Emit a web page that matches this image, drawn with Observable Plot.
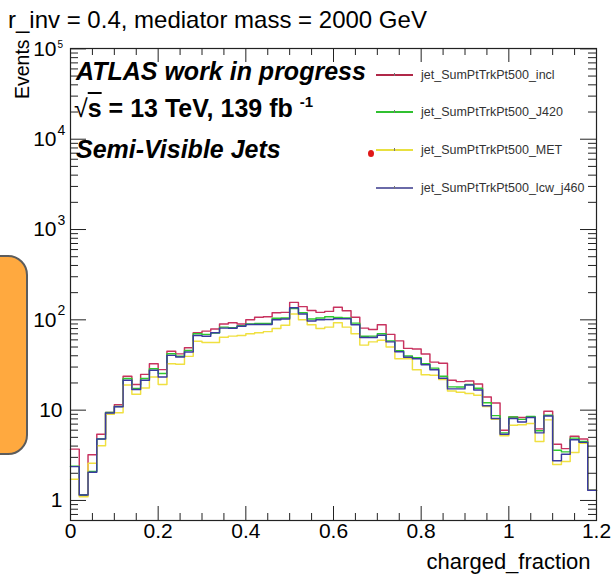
<!DOCTYPE html>
<html>
<head>
<meta charset="utf-8">
<script src="https://cdn.jsdelivr.net/npm/d3@7"></script>
<script src="https://cdn.jsdelivr.net/npm/@observablehq/plot@0.6"></script>
<style>
  body { margin: 0; background: #fff; }
  #wrap { position: relative; width: 615px; height: 584px; overflow: hidden; background: #fff;
          font-family: "Liberation Sans", Arial, Helvetica, sans-serif; color: #000; }
  #chart { position: absolute; left: 0; top: 0; }
  .ov { position: absolute; white-space: nowrap; line-height: 1; }
  .atlas { font-size: 25px; font-weight: bold; }
  .leg { position: absolute; left: 376px; height: 14px; }
  .leg .ln { position: absolute; left: 0; top: 6px; width: 37px; height: 2px; }
  .leg .tk { position: absolute; left: 18px; top: 5px; width: 1px; height: 3px; background: #777; }
  .leg .tx { position: absolute; left: 45px; top: 0; font-size: 12.5px; color: #333; line-height: 14px; }
</style>
</head>
<body>
<div id="wrap">
  <div id="chart"></div>
  <div class="ov" style="left:8px;top:8px;font-size:24px;">r_inv = 0.4, mediator mass = 2000 GeV</div>
  <div class="ov" style="left:12px;top:99px;font-size:19.5px;line-height:20px;transform:rotate(-90deg);transform-origin:0 0;">Events</div>
  <div class="ov atlas" style="left:76px;top:59px;font-style:italic;">ATLAS work in progress</div>
  <div class="ov atlas" style="left:74px;top:96px;"><span style="font-weight:normal">√</span><span style="text-decoration:overline">s</span> = 13 TeV, 139 fb <span style="font-size:15px;position:relative;top:-10px;">-1</span></div>
  <div class="ov atlas" style="left:76px;top:137px;font-style:italic;">Semi-Visible Jets</div>
  <div id="legend"></div>
  <div style="position:absolute;left:-22px;top:255px;width:46px;height:196px;background:#ffa93f;border:2px solid #5c5c5c;border-radius:20px;"></div>
</div>
<script>
// ---- data (events per bin, charged_fraction 0 .. 1.2, 60 bins) ----
const xMin = 0, xMax = 1.2;
const seriesNames = ["jet_SumPtTrkPt500_incl", "jet_SumPtTrkPt500_J420", "jet_SumPtTrkPt500_MET", "jet_SumPtTrkPt500_lcw_j460"];
const seriesColors = ["#c8325f", "#2ec82e", "#f0e040", "#3a3aa0"];
const legendColors = ["#b02848", "#30c030", "#e8e040", "#6a6aa8"];

const incl = [3.7, 1.15, 3.2, 5.4, 9.4, 11.5, 23.7, 19.2, 24.9, 32.7,
  28.1, 45, 42, 49, 72, 75, 79, 90, 93, 90,
  100, 107, 108, 120, 121, 156, 140, 127, 121, 124,
  138, 126, 107, 81, 78, 88, 69, 58.5, 48.3, 47.5,
  41.9, 34, 33.1, 21.4, 20.7, 21, 19.5, 14, 12, 6,
  8.4, 8.3, 8.4, 6.2, 9.7, 4.2, 3.75, 5.15, 4.8, 1.3];

const j420 = [2.4, 1.15, 2.1, 4.8, 9.4, 11, 22.4, 17.4, 22.4, 28.8,
  25.4, 42.2, 39.5, 45.9, 70, 69, 71.6, 83, 82, 86,
  90, 91, 91, 104, 105, 133, 120, 102, 105, 108,
  106, 105, 92, 65.8, 66, 70, 58.5, 45.5, 39.8, 38,
  32.6, 29.2, 23.7, 18.1, 18, 19.3, 17.5, 12.1, 8.7, 5.6,
  8.4, 7.9, 8.5, 5.9, 8.8, 3.6, 3.45, 4.9, 4.5, 1.3];

const met = [1.72, 1.1, 2.58, 4.04, 9.0, 9.35, 19, 15, 17.6, 23.3,
  19.2, 32.7, 32.2, 39.4, 58, 56, 56, 64, 66, 67,
  70, 72, 74, 80, 87, 116, 100, 88, 80, 83,
  93, 83, 70, 52.5, 57, 59.5, 50, 37, 37, 28,
  24.7, 24.3, 21.8, 16.3, 15.8, 15.3, 14.6, 11, 7.9, 5.2,
  6.8, 6.9, 7.1, 4.5, 7.8, 2.5, 2.7, 3.4, 4.3, 1.3];

const lcw = [2.37, 1.15, 2.05, 4.8, 9.3, 10.9, 21.4, 16.9, 21.4, 27.6,
  23.3, 40.4, 38.7, 44, 67, 65.7, 72, 81, 80.5, 85,
  89, 89, 89, 100, 102, 136, 116, 97, 100, 101,
  103, 103, 88, 63.6, 63.6, 67.5, 57, 44.4, 38.5, 37,
  31.8, 28, 22.5, 17.2, 17.2, 19, 16.7, 11.2, 8.1, 5.4,
  8.1, 7.4, 8.3, 5.6, 8.6, 2.75, 3.25, 4.7, 4.4, 1.3];

// axis ticks / labels
const xMajor = [0, 0.2, 0.4, 0.6, 0.8, 1, 1.2];
const xMinor = [0.05, 0.1, 0.15, 0.25, 0.3, 0.35, 0.45, 0.5, 0.55, 0.65, 0.7, 0.75, 0.85, 0.9, 0.95, 1.05, 1.1, 1.15];
const xLabels = ["0", "0.2", "0.4", "0.6", "0.8", "1", "1.2"];
const yDecades = [1, 10, 100, 1000, 10000, 100000];
const yExponents = ["", "", "2", "3", "4", "5"];
const yMinor = [0.7, 0.8, 0.9, 2, 3, 4, 5, 6, 7, 8, 9, 20, 30, 40, 50, 60, 70, 80, 90,
  200, 300, 400, 500, 600, 700, 800, 900, 2000, 3000, 4000, 5000, 6000, 7000, 8000, 9000,
  20000, 30000, 40000, 50000, 60000, 70000, 80000, 90000];

// ---- layout ----
const W = 615, H = 584, mL = 70, mR = 19, mT = 48, mB = 64;
const fw = W - mL - mR, fh = H - mT - mB;

function steps(vals) {
  const w = (xMax - xMin) / vals.length;
  const pts = vals.map((v, i) => ({x: xMin + i * w, y: v}));
  pts.push({x: xMax, y: vals[vals.length - 1]});
  return pts;
}
const allSeries = [incl, j420, met, lcw];

const marks = [];
allSeries.forEach((s, k) => {
  marks.push(Plot.line(steps(s), {x: "x", y: "y", curve: "step-after", stroke: seriesColors[k], strokeWidth: 1.45}));
});
// frame
marks.push(Plot.frame({stroke: "#222", strokeWidth: 1.2}));
// x ticks bottom / top
marks.push(Plot.tickX(xMajor, {x: d => d, insetTop: fh - 14, stroke: "#222"}));
marks.push(Plot.tickX(xMinor, {x: d => d, insetTop: fh - 7, stroke: "#222"}));
marks.push(Plot.tickX(xMajor, {x: d => d, insetBottom: fh - 14, stroke: "#222"}));
marks.push(Plot.tickX(xMinor, {x: d => d, insetBottom: fh - 7, stroke: "#222"}));
// y ticks left / right
marks.push(Plot.tickY(yDecades, {y: d => d, insetRight: fw - 16, stroke: "#222"}));
marks.push(Plot.tickY(yMinor, {y: d => d, insetRight: fw - 8, stroke: "#222"}));
marks.push(Plot.tickY(yDecades, {y: d => d, insetLeft: fw - 16, stroke: "#222"}));
marks.push(Plot.tickY(yMinor, {y: d => d, insetLeft: fw - 8, stroke: "#222"}));
// x labels
marks.push(Plot.text(xMajor, {x: d => d, text: (d, i) => xLabels[i], frameAnchor: "bottom", dy: 17, fontSize: 21, fill: "#000"}));
// y labels
const yIdx = yDecades.map((d, i) => i);
marks.push(Plot.text(yIdx, {y: i => yDecades[i], text: i => (yDecades[i] === 1 ? "1" : "10"),
  frameAnchor: "left", textAnchor: "end", fontSize: 21, fill: "#000",
  filter: i => yExponents[i] === "", dx: -8}));
marks.push(Plot.text(yIdx, {y: i => yDecades[i], text: () => "10",
  frameAnchor: "left", textAnchor: "end", fontSize: 21, fill: "#000",
  filter: i => yExponents[i] !== "", dx: -14}));
marks.push(Plot.text(yIdx, {y: i => yDecades[i], text: i => yExponents[i],
  frameAnchor: "left", textAnchor: "start", fontSize: 14, fill: "#000",
  filter: i => yExponents[i] !== "" && yDecades[i] < 1e5, dx: -13, dy: -9}));
marks.push(Plot.text(yIdx, {y: i => yDecades[i], text: i => yExponents[i],
  frameAnchor: "left", textAnchor: "start", fontSize: 10, fill: "#000",
  filter: i => yDecades[i] === 1e5, dx: -13, dy: -4}));
// x axis title
marks.push(Plot.text(["charged_fraction"], {text: d => d, frameAnchor: "bottom-right", textAnchor: "end",
  dx: -6, dy: 48, fontSize: 22, fill: "#000"}));

const chart = Plot.plot({
  width: W, height: H,
  marginLeft: mL, marginRight: mR, marginTop: mT, marginBottom: mB,
  x: {domain: [xMin, xMax], axis: null},
  y: {type: "log", domain: [0.6, 1.01e5], axis: null},
  style: {fontFamily: '"Liberation Sans", Arial, Helvetica, sans-serif', background: "transparent", overflow: "visible"},
  marks
});
document.getElementById("chart").appendChild(chart);

// legend
const legRows = [68, 105, 143, 181];
const leg = document.getElementById("legend");
seriesNames.forEach((name, k) => {
  const row = document.createElement("div");
  row.className = "leg";
  row.style.top = legRows[k] + "px";
  row.innerHTML = `<div class="ln" style="background:${legendColors[k]}"></div><div class="tk"></div><div class="tx">${name}</div>`;
  leg.appendChild(row);
});
const dot = document.createElement("div");
dot.style.cssText = "position:absolute;left:368px;top:150px;width:6px;height:7px;border-radius:50%;background:#e01818;";
leg.appendChild(dot);
</script>
</body>
</html>
